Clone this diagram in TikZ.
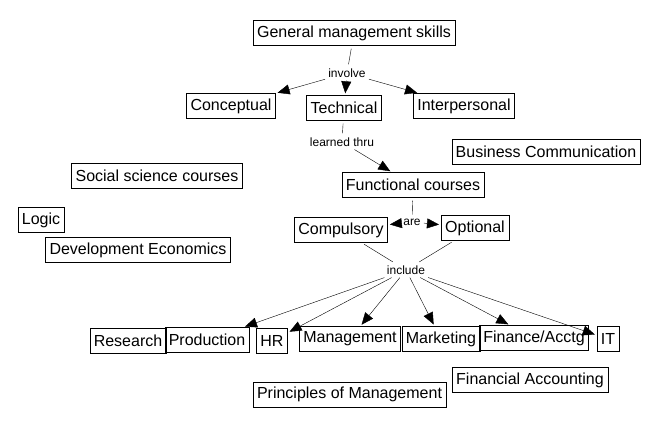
\documentclass[tikz,border=0pt]{standalone}
\usepackage{fontspec}
\setmainfont{Liberation Sans}
\usetikzlibrary{arrows.meta}

\begin{document}
\begin{tikzpicture}[
      x=1pt, y=-1pt,
      concept/.style={draw, thin, minimum height=25pt, inner xsep=4pt, inner ysep=0pt,
        font=\fontsize{16}{19}\selectfont},
      link/.style={inner sep=3pt, font=\fontsize{12}{14}\selectfont},
      arr/.style={-{Triangle[length=12pt, width=10pt]}, thin, shorten >=2pt},
      ln/.style={thin, shorten <=3pt, shorten >=1pt},
    ]
    \useasboundingbox (0,0) rectangle (646,428);
    % --- top of the map -----------------------------------------------
    \node[concept] (gms) at (354,33) {General management skills};
    \node[link] (involve) at (347,73) {involve};
    \node[concept] (conc) at (231,106) {Conceptual};
    \node[concept] (tech) at (344,108) {Technical};
    \node[concept] (inter) at (464,106) {Interpersonal};
    \node[link] (learned) at (342,142) {learned thru};
    \node[concept] (func) at (413,185) {Functional courses};
    \node[link] (are) at (412,222) {are};
    \node[concept] (comp) at (341,230) {Compulsory};
    \node[concept] (opt) at (475,228) {Optional};
    \node[link] (incl) at (406,270) {include};
    % --- loose concepts -------------------------------------------------
    \node[concept] (bc) at (546,152) {Business Communication};
    \node[concept] (ssc) at (157,176) {Social science courses};
    \node[concept] (logic) at (41,220) {Logic};
    \node[concept] (dev) at (138,250) {Development Economics};
    \node[concept] (pom) at (349.5,394.5) {Principles of Management};
    \node[concept] (fa) at (530,380) {Financial Accounting};
    % --- bottom row ---------------------------------------------------
    \node[concept] (res) at (128,341) {Research};
    \node[concept] (prod) at (207,340) {Production};
    \node[concept] (hr) at (272,341) {HR};
    \node[concept] (mgmt) at (350,339) {Management};
    \node[concept] (mkt) at (441,339) {Marketing};
    \node[concept] (fin) at (534,338) {Finance/Acctg};
    \node[concept] (it) at (608,339) {IT};
    % --- lines into the linking words ---------------------------------
    \draw[ln] (gms) -- (involve);
    \draw[ln] (tech) -- (learned);
    \draw[ln] (func) -- (are);
    \draw[ln] (comp) -- (incl);
    \draw[ln] (opt) -- (incl);
    % --- arrows out of the linking words ------------------------------
    \draw[arr] (involve) -- (conc);
    \draw[arr] (involve) -- (tech);
    \draw[arr] (involve) -- (inter);
    \draw[arr] (learned) -- (func);
    \draw[arr] (are) -- (comp);
    \draw[arr] (are) -- (opt);
    \foreach \t in {prod, hr, mgmt, mkt, fin, it} {
      \draw[arr] (incl) -- (\t);
    }
  \end{tikzpicture}
\end{document}
